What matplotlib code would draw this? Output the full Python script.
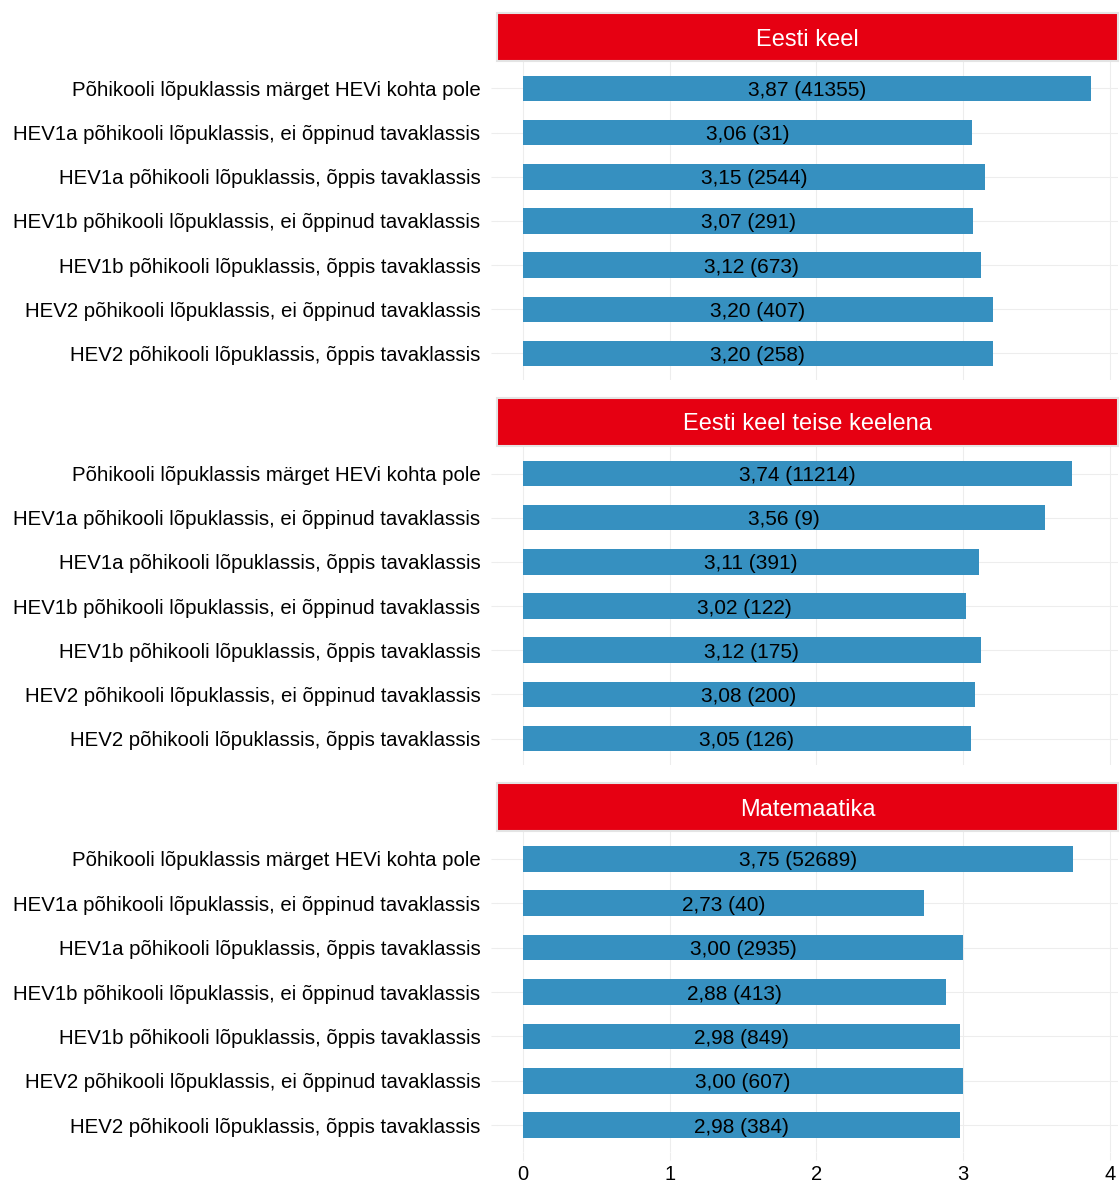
import matplotlib.pyplot as plt
from matplotlib.patches import Rectangle

plt.rcParams["font.family"] = ["Liberation Sans", "DejaVu Sans"]

categories = ["Põhikooli lõpuklassis märget HEVi kohta pole",
              "HEV1a põhikooli lõpuklassis, ei õppinud tavaklassis",
              "HEV1a põhikooli lõpuklassis, õppis tavaklassis",
              "HEV1b põhikooli lõpuklassis, ei õppinud tavaklassis",
              "HEV1b põhikooli lõpuklassis, õppis tavaklassis",
              "HEV2 põhikooli lõpuklassis, ei õppinud tavaklassis",
              "HEV2 põhikooli lõpuklassis, õppis tavaklassis"]

subjects = ["Eesti keel", "Eesti keel teise keelena", "Matemaatika"]

eesti_keel = [3.87, 3.06, 3.15, 3.07, 3.12, 3.20, 3.20]
eesti_keel_n = [41355, 31, 2544, 291, 673, 407, 258]

teise_keelena = [3.74, 3.56, 3.11, 3.02, 3.12, 3.08, 3.05]
teise_keelena_n = [11214, 9, 391, 122, 175, 200, 126]

matemaatika = [3.75, 2.73, 3.00, 2.88, 2.98, 3.00, 2.98]
matemaatika_n = [52689, 40, 2935, 413, 849, 607, 384]

values = [eesti_keel, teise_keelena, matemaatika]
counts = [eesti_keel_n, teise_keelena_n, matemaatika_n]

W, H = 1120, 1182
fig = plt.figure(figsize=(W / 100, H / 100), dpi=100)

bar_color = "#3690c0"
strip_color = "#e60012"
grid_color = "#ededed"

# pixel layout: (strip top, axes top, axes bottom)
panels = [(13, 62, 380), (398, 447, 765), (783, 832, 1152)]
x0, x1 = 497, 1118

for i, (s_top, a_top, a_bot) in enumerate(panels):
    ax = fig.add_axes([x0 / W, 1 - a_bot / H, (x1 - x0) / W, (a_bot - a_top) / H])
    ypos = list(range(len(categories)))
    ax.barh(ypos, values[i], height=0.58, color=bar_color, zorder=2)
    for y, v, n in zip(ypos, values[i], counts[i]):
        lbl = f"{v:.2f} ({n})".replace(".", ",")
        ax.text(v / 2, y, lbl, ha="center", va="center_baseline", fontsize=15,
                color="black", zorder=3)
    ax.set_ylim(len(categories) - 0.4, -0.6)
    ax.set_xlim(-0.177, 4.055)
    ax.set_xticks([0, 1, 2, 3, 4])
    ax.set_yticks(ypos)
    ax.set_yticklabels(categories, fontsize=14.7)
    ax.grid(True, color=grid_color, linewidth=0.8, zorder=0)
    ax.set_axisbelow(True)
    for sp in ax.spines.values():
        sp.set_visible(False)
    ax.tick_params(axis="y", length=4, color=grid_color, pad=8)
    ax.tick_params(axis="x", length=6, color=grid_color, labelsize=14.5, pad=3)
    if i < 2:
        ax.tick_params(axis="x", labelbottom=False, length=0)

    # facet strip
    sax = fig.add_axes([x0 / W, 1 - (a_top - 1) / H, (x1 - x0) / W, (a_top - 1 - s_top) / H])
    sax.set_xlim(0, 1)
    sax.set_ylim(0, 1)
    sax.axis("off")
    sax.add_patch(Rectangle((0, 0), 1, 1, facecolor=strip_color,
                            edgecolor="#e4e4e4", linewidth=1.5,
                            transform=sax.transAxes, clip_on=False))
    sax.text(0.5, 0.5, subjects[i], ha="center", va="center_baseline",
             color="white", fontsize=17)

fig.savefig("out.png", dpi=100, facecolor="white")
